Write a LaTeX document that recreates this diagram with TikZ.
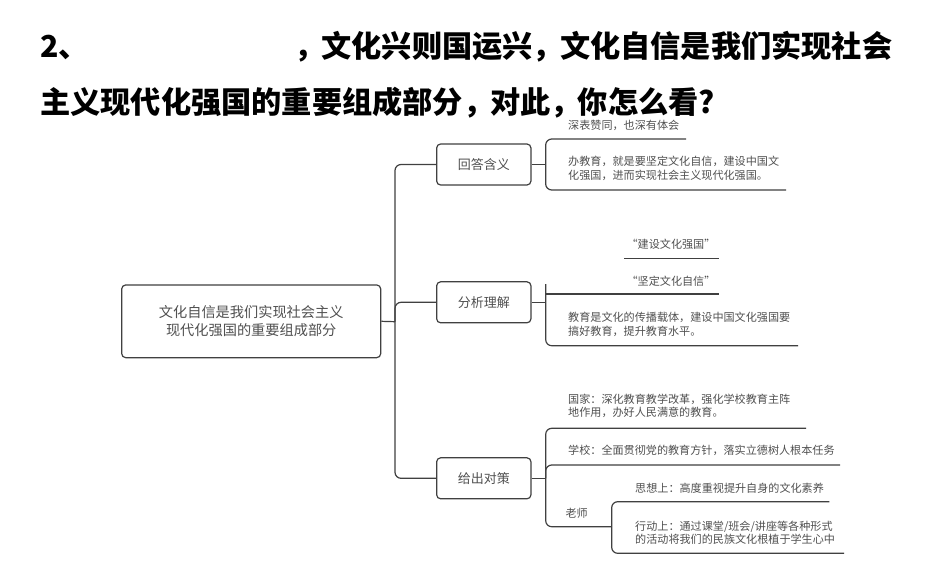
\documentclass[tikz,border=0pt]{standalone}
\usepackage{fontspec}
\newfontfamily\cjk{Noto Sans CJK SC}
\definecolor{ln}{HTML}{404040}
\definecolor{tx}{HTML}{505050}
\newcommand{\tcomma}{，\kern-3pt}
\tikzset{
  box/.style={draw=ln, line width=1.2pt, rounded corners=4pt, inner sep=0pt, text=tx},
  link/.style={draw=ln, line width=1.2pt, rounded corners=6pt},
  small/.style={inner sep=0pt, text=tx, font=\cjk\fontsize{11.1}{13.4}\selectfont, align=left},
  title/.style={inner sep=0pt, font=\cjk\bfseries\fontsize{30.2}{32}\selectfont, text=black}
}
\begin{document}
\begin{tikzpicture}[x=1pt,y=-1pt]
\useasboundingbox[fill=white] (0,0) rectangle (936,560);
% title
\node[title, anchor=west] (q1a) at (40,47) {2、};
\node[title, anchor=west] (q1b) at (294,47) {\tcomma 文化兴则国运兴\tcomma 文化自信是我们实现社会};
\node[title, anchor=west] (q2) at (40,103) {主义现代化强国的重要组成部分\tcomma 对此\tcomma 你怎么看?};
% root and children
\node[box, minimum width=259pt, minimum height=72.7pt, align=center,
      font=\cjk\fontsize{14.2}{18.3}\selectfont] (root) at (251.2,321.3)
      {文化自信是我们实现社会主义\\现代化强国的重要组成部分};
\node[box, minimum width=94.3pt, minimum height=41pt, font=\cjk\fontsize{13}{15}\selectfont] (c1) at (483.8,164.5) {回答含义};
\node[box, minimum width=94.3pt, minimum height=41pt, font=\cjk\fontsize{13}{15}\selectfont] (c2) at (483.8,302.3) {分析理解};
\node[box, minimum width=94.3pt, minimum height=41pt, font=\cjk\fontsize{13}{15}\selectfont] (c3) at (483.8,478.3) {给出对策};
\coordinate (T) at (395,321.7);
\draw[link] (root.east) -- (T);
\draw[link] (c1.west) -| (T) |- (c3.west);
\draw[link] (c2.west) -| (T);
% branch 1
\coordinate (b1) at (545.7,164.5);
\coordinate (b1t) at (686,139);
\coordinate (b1b) at (786,190);
\draw[link] (c1.east) -- (b1);
\draw[link] (b1t) -| (b1) |- (b1b);
\node[small, anchor=west] (t11) at (568,125.7) {深表赞同，也深有体会};
\node[small, anchor=west] (t12) at (568,168.3) {办教育，就是要坚定文化自信，建设中国文\\化强国，进而实现社会主义现代化强国。};
% branch 2
\coordinate (b2) at (545.7,302.3);
\coordinate (b2top) at (545.7,284);
\coordinate (b2m) at (719,294);
\coordinate (b2b) at (798,345.7);
\coordinate (u1) at (624,258.3);
\coordinate (u2) at (719,258.3);
\draw[link] (c2.east) -- (b2);
\draw[link] (b2top) |- (b2b);
\draw[link] (b2top |- b2m) -- (b2m);
\draw[link] (u1) -- (u2);
\node[small, anchor=center] (t21) at (671,244) {“建设文化强国”};
\node[small, anchor=center] (t22) at (671,281.7) {“坚定文化自信”};
\node[small, anchor=west] (t23) at (568,324.3) {教育是文化的传播载体，建设中国文化强国要\\搞好教育，提升教育水平。};
% branch 3
\coordinate (b3) at (545.7,478.3);
\coordinate (b3t) at (806,428.3);
\coordinate (b3m) at (840,465);
\coordinate (sv) at (611.7,526.7);
\coordinate (s1) at (829.3,501.7);
\coordinate (s2) at (844,553.3);
\draw[link] (c3.east) -- (b3);
\draw[link] (b3t) -| (b3) |- (sv);
\draw[link] (b3) |- (b3m);
\draw[link] (s1) -| (sv) |- (s2);
\node[small, anchor=west] (t31) at (568,405.8) {国家：深化教育教学改革，强化学校教育主阵\\地作用，办好人民满意的教育。};
\node[small, anchor=west] (t32) at (568,450) {学校：全面贯彻党的教育方针，落实立德树人根本任务};
\node[small, anchor=center] (t33) at (576.7,513.3) {老师};
\node[small, anchor=west] (t34) at (635,488.3) {思想上：高度重视提升自身的文化素养};
\node[small, anchor=west] (t35) at (635,532.7) {行动上：通过课堂/班会/讲座等各种形式\\的活动将我们的民族文化根植于学生心中};
\end{tikzpicture}
\end{document}
